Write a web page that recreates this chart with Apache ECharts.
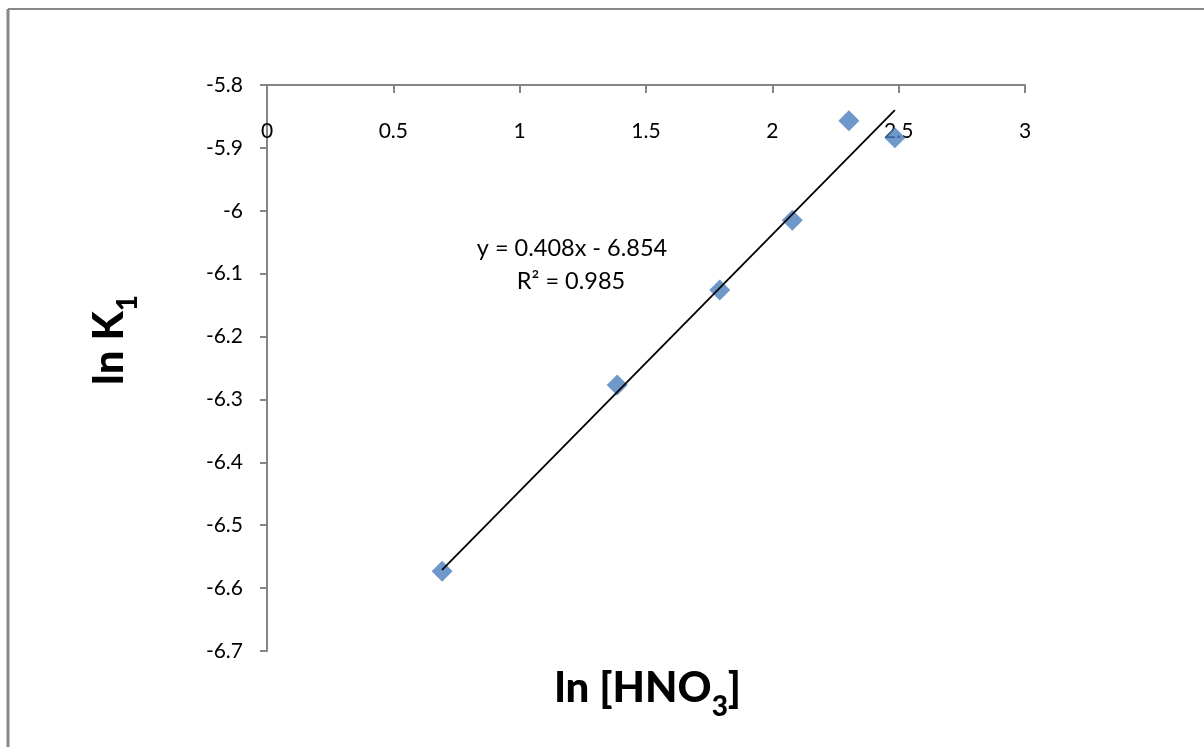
<!DOCTYPE html>
<html>
<head>
<meta charset="utf-8">
<script src="https://cdn.jsdelivr.net/npm/echarts@6/dist/echarts.min.js"></script>
<style>
html,body{margin:0;padding:0;background:#fff;}
#chart{width:1204px;height:747px;}
</style>
</head>
<body>
<div id="chart"></div>
<script>
const lnHNO3 = [0.693, 1.386, 1.792, 2.079, 2.303, 2.485];
const lnK1 = [-6.573, -6.277, -6.126, -6.015, -5.857, -5.884];
const trendX = [0.693, 2.485];
const trendY = [-6.571, -5.840];
const equationText = 'y = 0.408x - 6.854';
const r2Text = 'R² = 0.985';

const chart = echarts.init(document.getElementById('chart'), null, {renderer: 'canvas'});
const font = 'Lato, "Open Sans", sans-serif';
const axisGray = '#868686';

chart.setOption({
  animation: false,
  backgroundColor: '#fff',
  grid: {left: 267, top: 85, right: 179, bottom: 96, containLabel: false},
  xAxis: {
    type: 'value', position: 'top', min: 0, max: 3, interval: 0.5,
    axisLine: {show: true, lineStyle: {color: axisGray, width: 2}},
    axisTick: {show: true, inside: true, length: 8, lineStyle: {color: axisGray, width: 2}},
    axisLabel: {inside: true, margin: 36, color: '#000', fontSize: 21, fontFamily: font},
    splitLine: {show: false}
  },
  yAxis: {
    type: 'value', min: -6.7, max: -5.8, interval: 0.1,
    axisLine: {show: true, lineStyle: {color: axisGray, width: 2}},
    axisTick: {show: true, inside: false, length: 7, lineStyle: {color: axisGray, width: 2}},
    axisLabel: {margin: 24, color: '#000', fontSize: 21, fontFamily: font,
      formatter: v => String(Math.round(v*10)/10)},
    splitLine: {show: false}
  },
  series: [
    {
      type: 'line',
      data: trendX.map((x, i) => [x, trendY[i]]),
      showSymbol: false, symbol: 'none',
      lineStyle: {color: '#000', width: 1.8},
      z: 3
    },
    {
      type: 'scatter',
      data: lnHNO3.map((x, i) => [x, lnK1[i]]),
      symbol: 'diamond', symbolSize: [21, 21],
      itemStyle: {color: '#4A7EBB'},
      z: 2
    }
  ],
  graphic: [
    {type: 'line', shape: {x1: 8, y1: 9, x2: 1204, y2: 9}, style: {stroke: '#888', lineWidth: 2}},
    {type: 'line', shape: {x1: 8, y1: 9, x2: 8, y2: 747}, style: {stroke: '#888', lineWidth: 3}},
    {type: 'text', x: 572, y: 248, style: {text: equationText, fontSize: 23.5, fontFamily: font, fill: '#000', align: 'center', verticalAlign: 'middle'}},
    {type: 'text', x: 571, y: 281, style: {text: r2Text, fontSize: 23.5, fontFamily: font, fill: '#000', align: 'center', verticalAlign: 'middle'}},
    {type: 'text', x: 648, y: 688, style: {
      text: '{b|ln [HNO}{s|3}{b|]}',
      align: 'center', verticalAlign: 'middle',
      rich: {
        b: {fontSize: 42, fontWeight: 900, fontFamily: font, color: '#000', verticalAlign: 'bottom'},
        s: {fontSize: 28, fontWeight: 900, fontFamily: font, color: '#000', verticalAlign: 'bottom', padding: [0,0,-12,0]}
      }
    }},
    {type: 'text', x: 109, y: 340, rotation: Math.PI/2, style: {
      text: '{b|ln K}{s|1}',
      align: 'center', verticalAlign: 'middle',
      rich: {
        b: {fontSize: 42, fontWeight: 900, fontFamily: font, color: '#000', verticalAlign: 'bottom'},
        s: {fontSize: 28, fontWeight: 900, fontFamily: font, color: '#000', verticalAlign: 'bottom', padding: [0,0,-12,0]}
      }
    }}
  ]
});
</script>
</body>
</html>
